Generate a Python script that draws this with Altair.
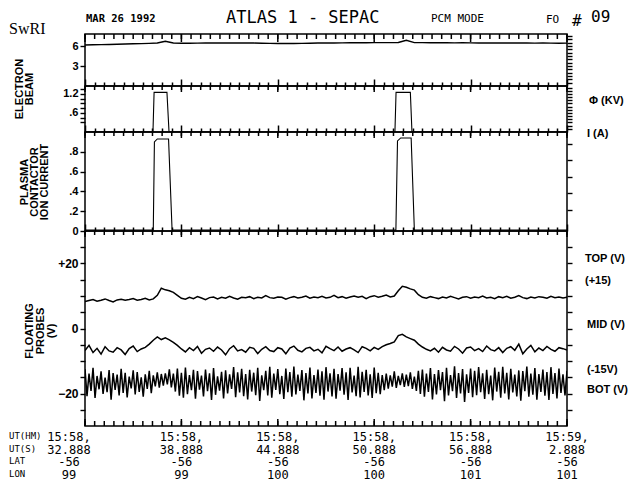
import altair as alt
import pandas as pd

# ---------------- data (time in seconds after 15:58:32.888) ----------------
X_DOMAIN = [0, 30]

# Electron beam potential (kV), sampled every 0.5 s
PHI_STEP = 0.5
PHI_KV = [6.15, 6.18, 6.2, 6.23, 6.26, 6.3, 6.33, 6.36, 6.4, 6.45, 6.7, 6.45, 6.42,
          6.42, 6.43, 6.44, 6.44, 6.45, 6.45, 6.46, 6.45, 6.44, 6.42, 6.4, 6.38, 6.37,
          6.38, 6.4, 6.42, 6.44, 6.45, 6.46, 6.47, 6.48, 6.48, 6.49, 6.5, 6.5, 6.5, 6.52,
          6.85, 6.5,
          6.5, 6.49, 6.5, 6.48, 6.47, 6.48, 6.47, 6.46, 6.45, 6.46, 6.45, 6.44, 6.45,
          6.44, 6.43, 6.44, 6.43, 6.42, 6.43]

# Electron beam current (A)
I_T = [0, 4.23, 4.30, 5.10, 5.23, 19.29, 19.36, 20.25, 20.35, 30]
I_A = [0, 0, 1.25, 1.25, 0, 0, 1.25, 1.25, 0, 0]

# Plasma contactor ion current
PC_T = [0, 4.25, 4.32, 4.5, 5.2, 5.42, 19.35, 19.45, 19.65, 20.3, 20.5, 30]
PC_V = [0.01, 0.01, 0.90, 0.93, 0.93, 0.01, 0.01, 0.91, 0.94, 0.94, 0.01, 0.01]

# Floating probes (V)
PROBE_STEP = 0.25
TOP_V = [8.3, 8.6, 8.9, 8.4, 8.7, 9.1, 8.6, 8.2, 8.8, 9.0, 8.7, 8.9, 9.2, 8.7, 8.9, 9.3, 8.8, 9.1,
         10.2, 12.4, 11.9, 11.6, 11.1, 10.2, 9.3,
         9.0, 9.6, 9.2, 9.8, 9.4, 8.9, 9.5, 9.7, 9.1, 9.6,
         9.3, 9.9, 9.4, 9.0, 9.6, 9.5, 9.8, 9.2, 9.6, 9.4,
         10.1, 9.5, 9.3, 9.7, 9.6, 9.0, 9.5, 9.8, 9.4, 9.6,
         10.0, 9.3, 9.7, 9.5, 9.9, 9.4, 9.6, 10.2, 9.5, 9.8,
         9.3, 9.7, 10.0, 9.6, 9.9, 9.2, 9.8, 10.1, 9.6, 9.9,
         10.3, 9.7,
         10.0, 11.6, 13.0, 12.7, 12.2, 11.8, 10.4, 9.6,
         9.3, 9.8, 9.5, 9.2, 9.7, 9.4, 9.9, 9.5, 9.1, 9.6,
         9.8, 9.3, 9.7, 9.5, 10.0, 9.4, 9.6, 9.2, 9.8, 9.5,
         9.9, 9.3, 9.6, 10.1, 9.5, 9.2, 9.7, 9.4, 9.8, 9.6,
         9.3, 9.9, 9.5, 9.7, 9.4, 9.6]
MID_V = [-6.8, -5.2, -7.4, -6.1, -7.9, -5.6, -6.9, -7.3, -5.9, -6.6, -8.0, -6.2, -5.4, -7.1, -6.3, -5.8,
         -4.8, -3.6, -2.6, -3.4, -2.9, -3.5, -4.3, -5.2,
         -6.3, -7.2, -5.9, -6.8, -5.5, -7.6, -6.4, -6.0, -7.0, -5.7,
         -6.6, -8.1, -6.2, -5.3, -6.9, -6.5, -7.3, -5.8, -6.1, -7.7,
         -6.4, -5.6, -6.8, -7.1, -5.9, -6.3, -7.8, -6.0, -5.4, -6.7,
         -7.2, -6.1, -5.8, -6.9, -6.4, -7.5, -5.5, -6.2, -6.8, -5.7,
         -7.0, -6.3, -5.9, -6.6, -7.4, -5.6, -6.1, -6.9, -5.8, -6.4,
         -5.6, -5.0, -4.6, -4.1, -2.2, -1.8, -2.6, -3.1, -3.6, -4.8, -5.7, -6.4, -6.9,
         -6.1, -7.3, -5.8, -6.6, -7.0, -5.5, -6.3, -7.6, -6.0, -5.7,
         -6.8, -6.2, -7.1, -5.4, -6.5, -6.9, -5.9, -7.4, -6.1, -5.6,
         -6.7, -4.8, -7.8, -6.3, -5.2, -7.2, -6.0, -6.8, -5.5, -6.4,
         -7.0, -5.9, -6.2, -6.6]
BOT_STEP = 0.125
BOT_V = [-12.5, -20.8, -13.9, -19.2, -12.1, -21.4, -14.6, -18.7, -13.2, -20.1,
         -15.1, -19.6, -12.8, -21.9, -13.7, -18.9, -14.2, -20.6, -12.4, -19.8,
         -13.6, -21.2, -14.8, -18.4, -12.9, -20.3, -13.4, -19.5, -15.0, -21.0,
         -14.1, -18.6, -13.0, -19.9, -14.4, -17.8, -13.5, -18.2, -14.0, -17.6,
         -13.8, -17.2, -12.6, -18.1, -13.9, -19.4, -12.3, -20.7, -13.6, -21.3,
         -12.0, -20.2, -14.3, -19.0, -12.7, -21.6, -13.1, -18.8, -14.5, -20.9,
         -12.6, -19.3, -13.8, -22.0, -12.2, -20.4, -14.7, -19.1, -13.3, -21.5,
         -12.9, -20.0, -14.1, -18.6, -11.9, -21.1, -13.5, -19.7, -12.4, -20.8,
         -14.0, -21.8, -12.7, -19.4, -13.6, -20.5, -12.1, -22.3, -14.4, -19.0,
         -13.0, -20.6, -11.8, -21.3, -13.9, -18.9, -12.5, -20.2, -14.6, -21.7,
         -12.3, -19.6, -13.4, -21.0, -11.7, -20.3, -14.2, -19.2, -12.8, -22.1,
         -13.7, -20.0, -12.0, -21.5, -14.3, -19.8, -12.6, -20.7, -13.2, -21.9,
         -11.9, -19.4, -13.8, -20.9, -12.4, -21.6, -14.0, -19.1, -12.2, -20.4,
         -13.5, -22.0, -12.1, -19.7, -14.5, -20.8, -11.8, -21.2, -13.3, -19.5,
         -12.7, -20.6, -14.1, -21.4, -12.0, -19.9, -13.6, -20.2, -14.3, -19.0,
         -13.9, -18.5, -14.4, -17.9, -13.2, -18.3, -14.6, -17.4, -13.8, -18.0,
         -14.2, -17.7, -13.5, -18.6, -14.8, -19.2, -13.0, -20.1, -12.6, -21.0,
         -13.9, -19.5, -12.2, -21.8, -14.0, -20.3, -12.8, -19.0, -13.4, -22.4,
         -12.1, -20.6, -14.3, -19.3, -11.6, -21.4, -13.7, -20.0, -12.5, -22.6,
         -14.1, -19.8, -12.3, -21.1, -13.0, -20.5, -11.9, -19.6, -13.8, -21.7,
         -12.7, -20.2, -14.5, -22.1, -12.0, -19.4, -13.3, -21.3, -11.8, -20.0,
         -13.6, -21.8, -12.4, -19.7, -14.2, -20.9, -12.9, -22.2, -13.1, -19.3,
         -11.7, -21.0, -13.9, -20.4, -12.2, -21.9, -14.0, -19.5, -12.6, -20.7,
         -13.4, -22.0, -11.9, -20.1, -13.7, -21.5, -12.3, -19.8, -14.1, -20.6,
         -13.0]

# Time axis labels
LABEL_T = [0, 6, 12, 18, 24, 30]
UT_HM = ["15:58,", "15:58,", "15:58,", "15:58,", "15:58,", "15:59,"]
UT_S = ["32.888", "38.888", "44.888", "50.888", "56.888", "2.888"]
LAT = ["-56", "-56", "-56", "-56", "-56", "-56"]
LON = ["99", "99", "100", "100", "101", "101"]

# Tick positions
XTICKS = [round(0.6 * k, 1) for k in range(51)]
XMAJOR = [0, 6, 12, 18, 24, 30]
P1_LEFT, P1_LEFT_LAB = [3, 6], ["3", "6"]
P1_RIGHT = [0.5 * k for k in range(1, 16)]
P2_LEFT = [0.3, 0.45, 0.6, 0.75, 0.9, 1.05, 1.2, 1.35]
P2_LEFT_LAB = ["", "", ".6", "", "", "", "1.2", ""]
P2_RIGHT = [round(0.1 * k, 2) for k in range(1, 15)]
P3_LEFT = [0, 0.2, 0.4, 0.6, 0.8]
P3_LEFT_LAB = ["0", ".2", ".4", ".6", ".8"]
P3_RIGHT = [0.21, 0.38, 0.55, 0.72, 0.88]
P4_TICKS = [-25, -20, -15, -10, -5, 0, 5, 10, 15, 20, 25]
P4_LEFT_LAB = ["", "−20", "", "", "", "0", "", "", "", "+20", ""]

# ---------------- frames ----------------
phi_df = pd.DataFrame({"t": [i * PHI_STEP for i in range(len(PHI_KV))], "v": PHI_KV})
i_df = pd.DataFrame({"t": I_T, "v": I_A})
pc_df = pd.DataFrame({"t": PC_T, "v": PC_V})
probe_df = pd.concat([
    pd.DataFrame({"t": [i * PROBE_STEP for i in range(len(TOP_V))], "v": TOP_V, "s": "TOP"}),
    pd.DataFrame({"t": [i * PROBE_STEP for i in range(len(MID_V))], "v": MID_V, "s": "MID"}),
    pd.DataFrame({"t": [i * BOT_STEP for i in range(len(BOT_V))], "v": BOT_V, "s": "BOT"}),
], ignore_index=True)
lab_df = pd.DataFrame({"t": LABEL_T,
                       "lab": ["\n".join(r) for r in zip(UT_HM, UT_S, LAT, LON)]})
xt_df = pd.DataFrame({"t": XTICKS})
xm_df = pd.DataFrame({"t": XMAJOR})
one = pd.DataFrame({"a": [0]})

W = 482
XS = alt.Scale(domain=X_DOMAIN, nice=False, zero=False)
MAJOR = "abs(datum.value - 6 * round(datum.value / 6)) < 0.01"
BOLD = "Liberation Sans"
MONO = "DejaVu Sans Mono"
TW = 1.5


def top_axis():
    # ticks pointing up out of a panel: the upper half of the boundary crosses
    return alt.Axis(orient="top", values=XTICKS, labels=False, domain=False, grid=False,
                    title=None, tickColor="black", tickWidth=TW,
                    tickSize={"condition": {"test": MAJOR, "value": 7}, "value": 4})


def yaxis(orient, values, labels=None, size=11):
    kw = dict(orient=orient, values=values, domain=False, grid=False, title=None,
              tickColor="black", tickWidth=1.4, tickSize=5)
    if labels:
        parts = [f"abs(datum.value - ({v})) < 1e-6 ? '{l}'" for v, l in zip(values, labels) if l]
        kw.update(labelExpr=" : ".join(parts) + " : ''", labelFont=BOLD, labelFontWeight="bold",
                  labelFontSize=size, labelColor="black", labelPadding=2,
                  labelOverlap=False, labelFlush=False, labelBound=False)
    else:
        kw.update(labels=False)
    return alt.Axis(**kw)


def inner_ticks(df, y0, y1):
    return alt.Chart(df).mark_rule(color="black", strokeWidth=TW).encode(
        x=alt.X("t:Q", scale=XS, axis=None), y=alt.value(y0), y2=alt.value(y1))


def txt(text, x, y, font=BOLD, size=11, weight="bold", align="left", baseline="middle",
        angle=0, lineHeight=None):
    kw = dict(text=text, font=font, fontSize=size, fontWeight=weight, align=align,
              baseline=baseline, color="black")
    if angle:
        kw["angle"] = angle
    if lineHeight:
        kw["lineHeight"] = lineHeight
    return alt.Chart(one).mark_text(**kw).encode(x=alt.value(x), y=alt.value(y))


def panel(df, ydomain, height, left, left_lab, right, first=False, top_len=(4, 6),
          sw=1.2, extra=(), detail=False, label_size=11):
    ys = alt.Scale(domain=ydomain, nice=False, zero=False)
    enc = dict(x=alt.X("t:Q", scale=XS, axis=None),
               y=alt.Y("v:Q", scale=ys, axis=yaxis("left", left, left_lab, label_size)))
    if detail:
        enc["detail"] = alt.Detail("s:N")
    main = alt.Chart(df).mark_line(color="black", strokeWidth=sw, clip=True).encode(**enc)
    ghost = alt.Chart(df).mark_line(opacity=0).encode(
        x=alt.X("t:Q", scale=XS, axis=None if first else top_axis()),
        y=alt.Y("v:Q", scale=ys, axis=yaxis("right", right)))
    if detail:
        ghost = ghost.encode(detail=alt.Detail("s:N"))
    # ticks hanging down from the panel's top edge (lower half of the crosses)
    hang = [inner_ticks(xt_df, 0, top_len[0]), inner_ticks(xm_df, 0, top_len[1])]
    return alt.layer(main, ghost, *hang, *extra).resolve_axis(
        x="independent", y="independent").properties(width=W, height=height)


# ---------------- panels ----------------
p1_text = [
    txt("SwRI", -76, -5, font="Liberation Serif", size=16, weight="normal"),
    txt("MAR 26 1992", 1, -15, font=MONO, size=10.5, weight="bold"),
    txt("ATLAS 1 - SEPAC", 141, -16, font=MONO, size=17, weight="normal"),
    txt("PCM MODE", 346, -15, font=MONO, size=11, weight="normal"),
    txt("FO", 461, -14, font=MONO, size=11, weight="normal"),
    txt("#", 487, -13, font=MONO, size=16, weight="normal"),
    txt("09", 506, -17, font=MONO, size=16, weight="normal"),
    txt(["ELECTRON", "BEAM"], -65, 55, size=11, align="center", angle=270, lineHeight=10),
]
p1 = panel(phi_df, [0, 7.8], 52, P1_LEFT, P1_LEFT_LAB, P1_RIGHT, first=True, top_len=(5, 8),
           sw=1.4, extra=p1_text)

p2_text = [txt("Φ (KV)", 504, 15), txt("I (A)", 502, 48)]
p2 = panel(i_df, [0, 1.45], 46, P2_LEFT, P2_LEFT_LAB, P2_RIGHT, sw=1.1, extra=p2_text)

p3_text = [txt(["PLASMA", "CONTACTOR", "ION CURRENT"], -60, 50, size=11, align="center",
               angle=270, lineHeight=10)]
p3 = panel(pc_df, [0, 1.0], 99, P3_LEFT, P3_LEFT_LAB, P3_RIGHT, sw=1.1, extra=p3_text)

LBL = dict(lineBreak="\n", font=MONO, fontSize=12, lineHeight=12.5, baseline="top",
           align="center", color="black")
tick_labels = alt.Chart(lab_df).mark_text(**LBL).encode(
    x=alt.X("t:Q", scale=XS, axis=None), y=alt.value(201),
    text="lab:N").transform_filter("datum.t > 0")
first_label = alt.Chart(lab_df).mark_text(dx=-16, **LBL).encode(
    x=alt.X("t:Q", scale=XS, axis=None), y=alt.value(201),
    text="lab:N").transform_filter("datum.t == 0")
p4_text = [
    inner_ticks(xt_df, 190, 195), inner_ticks(xm_df, 188, 195),
    txt(["FLOATING", "PROBES", "(V)"], -55, 100, size=11, align="center", angle=270,
        lineHeight=11),
    txt("TOP (V)", 500, 28), txt("(+15)", 500, 50), txt("MID (V)", 502, 94),
    txt("(-15V)", 502, 139), txt("BOT (V)", 502, 159),
    txt(["UT(HM)", "UT(S)", "LAT", "LON"], -76, 201, font=MONO, size=9, weight="normal",
        baseline="top", lineHeight=12.5),
    tick_labels, first_label,
]
p4 = panel(probe_df, [-30, 30], 195, P4_TICKS, P4_LEFT_LAB, P4_TICKS,
           sw=1.5, extra=p4_text, detail=True, label_size=12)

chart = alt.vconcat(p1, p2, p3, p4, spacing=0, bounds="flush").properties(
    padding=0, background="white").configure_view(stroke="black", strokeWidth=1.5)

chart.save("out.html", embed_options={"renderer": "svg", "actions": False})
